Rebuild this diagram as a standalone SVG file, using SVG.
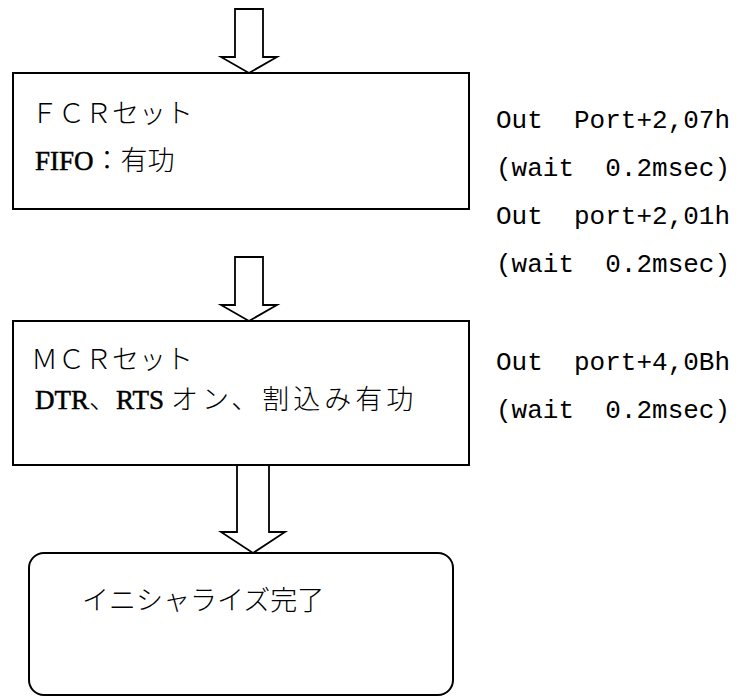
<svg xmlns="http://www.w3.org/2000/svg" width="743" height="697" viewBox="0 0 743 697">
<style>
.box{fill:#fff;stroke:#000;stroke-width:2}
.arr{fill:#fff;stroke:#000;stroke-width:1.8;stroke-linejoin:miter}
.jp{font-family:"Liberation Serif","Noto Sans CJK JP",serif;font-size:27px;font-weight:300;fill:#000}
.lat{font-family:"Liberation Serif",serif;font-weight:normal;stroke:#000;stroke-width:0.5}
.code{font-family:"Liberation Mono",monospace;font-size:26px;fill:#000;white-space:pre}
</style>
<rect width="743" height="697" fill="#fff"/>
<g id="connectors">
<polygon class="arr" points="235,9 263,9 263,57 277,57 249,73 221,57 235,57"/>
<polygon class="arr" points="235,257 263,257 263,305 277,305 249,321 221,305 235,305"/>
<polygon class="arr" points="237,465 269,465 269,532 285,532 253,553 221,532 237,532"/>
</g>
<g id="fcr">
<rect class="box" x="13" y="73" width="456" height="136"/>
<text class="jp" x="31" y="123">ＦＣＲセット</text>
<text class="jp" x="35" y="170"><tspan class="lat">FIFO</tspan>：有功</text>
</g>
<g id="mcr">
<rect class="box" x="13" y="321" width="456" height="144"/>
<text class="jp" x="31" y="369">ＭＣＲセット</text>
<text class="jp" x="35" y="409"><tspan class="lat">DTR</tspan>、<tspan class="lat">RTS</tspan><tspan dx="7" style="letter-spacing:4px">オン、割込み有功</tspan></text>
</g>
<g id="done">
<rect class="box" x="29" y="553" width="424" height="142" rx="15" ry="15"/>
<text class="jp" x="82" y="610">イニシャライズ完了</text>
</g>
<g id="notes" xml:space="preserve">
<text class="code" x="496" y="128">Out  Port+2,07h</text>
<text class="code" x="496" y="176">(wait  0.2msec)</text>
<text class="code" x="496" y="224">Out  port+2,01h</text>
<text class="code" x="496" y="272">(wait  0.2msec)</text>
<text class="code" x="496" y="370">Out  port+4,0Bh</text>
<text class="code" x="496" y="418">(wait  0.2msec)</text>
</g>
</svg>
